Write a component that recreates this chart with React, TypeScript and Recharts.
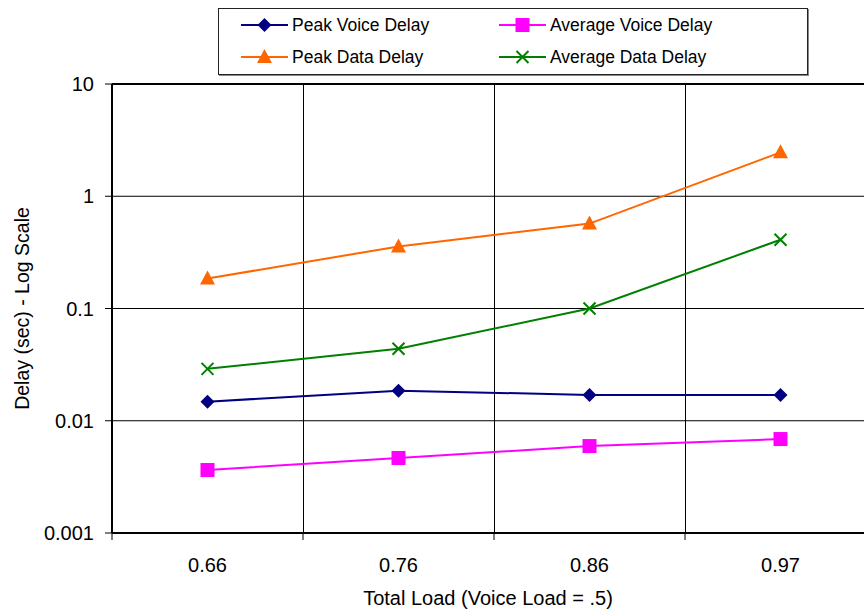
import { LineChart, Line, XAxis, YAxis, CartesianGrid, ReferenceLine } from "recharts"

const loads = ["0.66", "0.76", "0.86", "0.97"]
const peakVoice = [0.0148, 0.0185, 0.017, 0.017]
const avgVoice = [0.00364, 0.00466, 0.00595, 0.00687]
const peakData = [0.185, 0.357, 0.571, 2.46]
const avgData = [0.029, 0.0438, 0.1, 0.41]
const yTicks = [0.001, 0.01, 0.1, 1, 10]

const series = [
  { key: "peakVoice", name: "Peak Voice Delay", color: "#000080", shape: "diamond" },
  { key: "avgVoice", name: "Average Voice Delay", color: "#FF00FF", shape: "square" },
  { key: "peakData", name: "Peak Data Delay", color: "#FF6600", shape: "triangle" },
  { key: "avgData", name: "Average Data Delay", color: "#008000", shape: "cross" },
]

const data = loads.map((load, i) => ({
  load,
  peakVoice: peakVoice[i],
  avgVoice: avgVoice[i],
  peakData: peakData[i],
  avgData: avgData[i],
}))

const CHART_W = 880
const CHART_H = 613
const Y_AXIS_W = 112
const X_AXIS_H = 80
const MARGIN = { top: 84, right: 4, bottom: 0, left: 0 }
const BAND = (CHART_W - Y_AXIS_W - MARGIN.right) / loads.length
const FONT = "'Liberation Sans', Arial, sans-serif"

function Marker({ shape, cx, cy, color }: { shape: string; cx: number; cy: number; color: string }) {
  if (shape === "diamond") {
    return <path d={`M${cx},${cy - 7}L${cx + 7},${cy}L${cx},${cy + 7}L${cx - 7},${cy}Z`} fill={color} />
  }
  if (shape === "square") {
    return <rect x={cx - 7} y={cy - 7} width={14} height={14} fill={color} />
  }
  if (shape === "triangle") {
    return <path d={`M${cx},${cy - 8}L${cx + 7.5},${cy + 6}L${cx - 7.5},${cy + 6}Z`} fill={color} />
  }
  return (
    <path
      d={`M${cx - 6},${cy - 6}L${cx + 6},${cy + 6}M${cx - 6},${cy + 6}L${cx + 6},${cy - 6}`}
      stroke={color}
      strokeWidth={2}
      fill="none"
    />
  )
}

function XTick({ x, y, payload }: any) {
  return (
    <g>
      <line x1={x - BAND / 2} y1={y} x2={x - BAND / 2} y2={y + 7} stroke="#000" />
      <text x={x} y={y + 39} textAnchor="middle" fontSize={20} fill="#000" fontFamily={FONT}>
        {payload.value}
      </text>
    </g>
  )
}

function Legend() {
  return (
    <div
      style={{
        position: "absolute",
        left: 218,
        top: 8,
        width: 590,
        height: 67,
        boxSizing: "border-box",
        border: "1px solid #222",
        boxShadow: "1px 1px 0 #888",
        background: "#fff",
      }}
    >
      {series.map((s, i) => {
        const left = i % 2 === 0 ? 21 : 279
        const top = i < 2 ? 5 : 37
        return (
          <div key={s.key} style={{ position: "absolute", left, top, height: 22, display: "flex", alignItems: "center" }}>
            <svg width={49} height={22}>
              <line x1={1} y1={11} x2={48} y2={11} stroke={s.color} strokeWidth={2} />
              <Marker shape={s.shape} cx={24.5} cy={11} color={s.color} />
            </svg>
            <span style={{ fontSize: 17.5, marginLeft: 3, fontFamily: FONT, color: "#000" }}>{s.name}</span>
          </div>
        )
      })}
    </div>
  )
}

export default function App() {
  return (
    <div
      style={{
        position: "absolute",
        left: 0,
        top: 0,
        width: 864,
        height: 613,
        overflow: "hidden",
        background: "#fff",
        fontFamily: FONT,
      }}
    >
      <LineChart width={CHART_W} height={CHART_H} data={data} margin={MARGIN}>
        <CartesianGrid
          stroke="#000"
          strokeWidth={1}
          verticalCoordinatesGenerator={({ offset }: any) =>
            loads.slice(1).map((_, i) => Math.round(offset.left + ((i + 1) * offset.width) / loads.length) + 0.5)
          }
        />
        <XAxis
          dataKey="load"
          scale="band"
          height={X_AXIS_H}
          tickLine={false}
          tickSize={0}
          tickMargin={0}
          axisLine={{ stroke: "#000", strokeWidth: 2 }}
          tick={<XTick />}
          interval={0}
          label={{
            value: "Total Load (Voice Load = .5)",
            position: "insideBottom",
            offset: 8,
            fontSize: 20,
            fill: "#000",
            dx: -6,
          }}
        />
        <YAxis
          scale="log"
          domain={[0.001, 10]}
          ticks={yTicks}
          allowDataOverflow
          width={Y_AXIS_W}
          axisLine={{ stroke: "#000", strokeWidth: 2 }}
          tickLine={{ stroke: "#000" }}
          tickSize={7}
          tickMargin={11}
          tick={{ fontSize: 20, fill: "#000" }}
          label={{
            value: "Delay (sec) - Log Scale",
            angle: -90,
            position: "insideLeft",
            offset: 22,
            fontSize: 19.5,
            fill: "#000",
            style: { textAnchor: "middle" },
          }}
        />
        <ReferenceLine y={10} stroke="#000" strokeWidth={2} />
        {series.map((s) => (
          <Line
            key={s.key}
            type="linear"
            dataKey={s.key}
            name={s.name}
            stroke={s.color}
            strokeWidth={2}
            isAnimationActive={false}
            dot={(p: any) => <Marker key={`${s.key}-${p.index}`} shape={s.shape} cx={p.cx} cy={p.cy} color={s.color} />}
            activeDot={false}
          />
        ))}
      </LineChart>
      <Legend />
    </div>
  )
}
